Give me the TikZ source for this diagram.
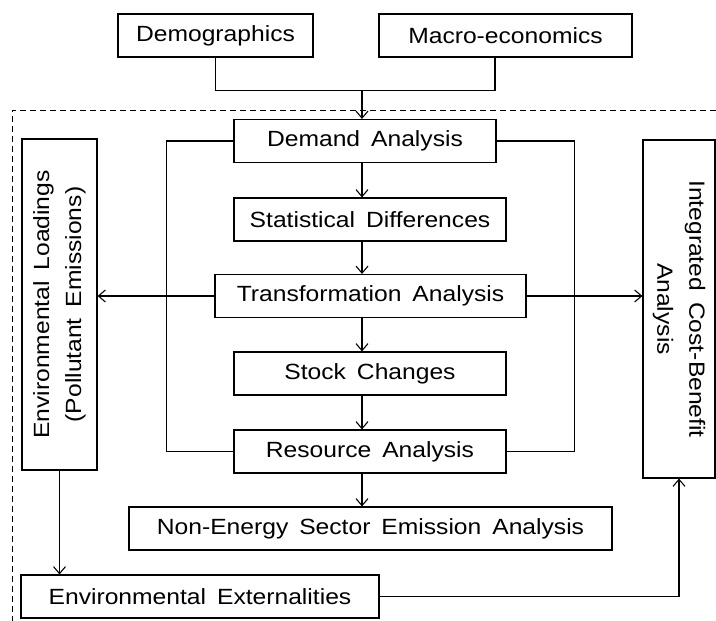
\documentclass[tikz,border=0pt]{standalone}
\usepackage{fontspec}
\setmainfont[FakeStretch=1.12, WordSpace=1.6]{Liberation Sans}
\usetikzlibrary{arrows.meta}

\begin{document}
\begin{tikzpicture}[
        x=1pt, y=-1pt,
        line width=1.1pt,
        every node/.style={draw, rectangle, inner sep=0pt, align=center,
            font=\fontsize{22}{32}\selectfont},
        box/.style={minimum height=43pt},
        frame/.style={dashed, dash pattern=on 6pt off 4pt, line width=1pt},
        >={Straight Barb[length=7pt,width=12pt]}
        ]
    \useasboundingbox (0,0) rectangle (716,621);
    % inputs
    \node[box, minimum width=195pt] (demo) at (215.5,35.5) {Demographics};
    \node[box, minimum width=253pt] (macro) at (505.5,35.5) {Macro-economics};
    % main chain
    \node[box, minimum width=262pt] (demand) at (365,141) {Demand Analysis};
    \node[box, minimum width=272pt] (stat) at (370,219.5) {Statistical Differences};
    \node[box, minimum width=311pt] (trans) at (370.5,296) {Transformation Analysis};
    \node[box, minimum width=272pt] (stock) at (370,373.5) {Stock Changes};
    \node[box, minimum width=272pt] (resource) at (370,451.5) {Resource Analysis};
    \node[box, minimum width=483pt] (nonenergy) at (370.5,528.5) {Non-Energy Sector Emission Analysis};
    \node[box, minimum width=358pt] (extern) at (200,596.5) {Environmental Externalities};
    % side boxes
    \node[rotate=90, minimum width=331pt, minimum height=75pt] (loadings) at (59.5,304.5)
        {Environmental Loadings\\(Pollutant Emissions)};
    \node[rotate=-90, minimum width=338pt, minimum height=72pt] (integrated) at (679,309)
        {Integrated Cost-Benefit\\Analysis};

    \draw[frame] (716,110) -| (12,621);

    \coordinate (merge) at (362,90);
    \draw (demo.south) -- ++(0,33) -| ([xshift=-10.5pt]macro.south);
    \draw[->] (merge) -- (merge |- demand.north);
    \foreach \a/\b in {demand/stat, stat/trans, trans/stock, stock/resource, resource/nonenergy}
        \draw[->] (\a.south -| merge) -- (\b.north -| merge);
    \draw (demand.west) -- ++(-67,0) |- (resource.west);
    \draw (demand.east) -- ++(78,0) |- (resource.east);
    \draw[->] (trans.west) -- (trans.west -| loadings.south);
    \draw[->] (trans.east) -- (trans.east -| integrated.south);
    \draw[->] (loadings.west) -- (loadings.west |- extern.north);
    \draw[->] (extern.east) -| (integrated.east);
\end{tikzpicture}
\end{document}
